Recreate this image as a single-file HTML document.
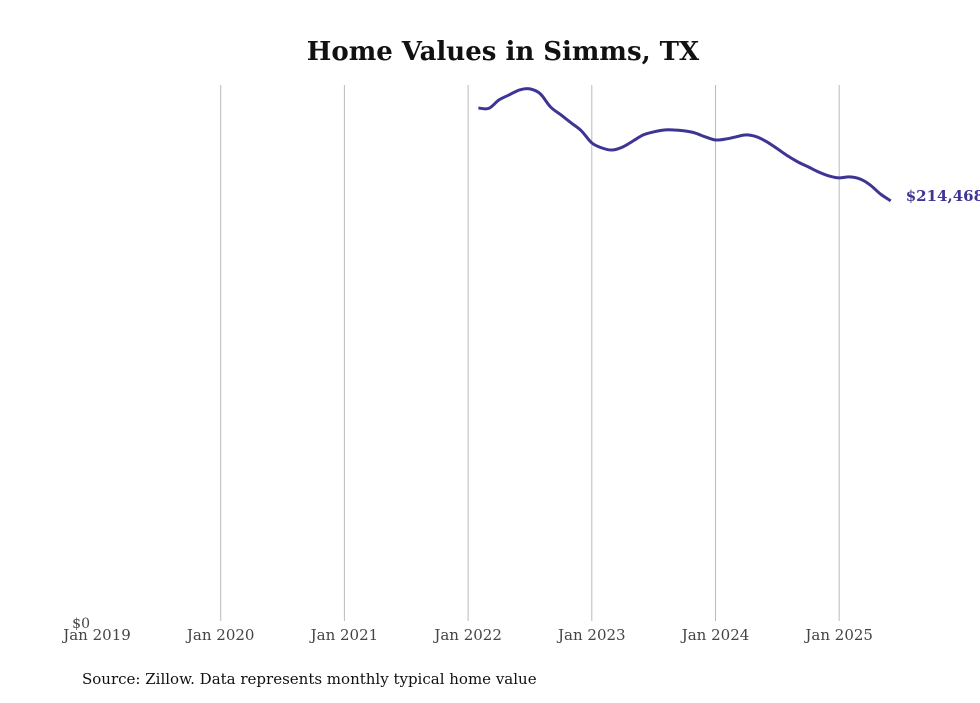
<!DOCTYPE html>
<html><head><meta charset="utf-8"><style>
body{margin:0;background:#fff;width:980px;height:699px;overflow:hidden;font-family:"DejaVu Serif","Liberation Serif",serif;}
</style></head><body>
<svg width="980" height="699">
<text x="503" y="60" text-anchor="middle" font-size="26" font-weight="bold" fill="#111">Home Values in Simms, TX</text>
<g id="grid"></g>
<g id="xt"></g>
<text x="90" y="628" text-anchor="end" font-size="14" fill="#444">$0</text>
<path id="line" fill="none" stroke="#3d3494" stroke-width="3" stroke-linejoin="round"/>
<text id="endlbl" font-size="15" font-weight="bold" fill="#3d3494"></text>
<text x="82" y="684" font-size="15" fill="#111">Source: Zillow. Data represents monthly typical home value</text>
</svg>
<script>
const tickLabels=["Jan 2019","Jan 2020","Jan 2021","Jan 2022","Jan 2023","Jan 2024","Jan 2025"];
const startMonth=37; // months since Jan 2019 (Feb 2022)
const values=[261800,261600,265900,268500,271000,271500,269000,262300,258300,254200,250100,244000,241400,240400,241900,245000,248100,249600,250600,250600,250100,249100,247100,245500,246000,247100,248100,247100,244500,241000,237400,234300,231800,229200,227200,226200,226700,225700,222600,218000,214468];
const yMax=273500;
const x0=97,pxPerMonth=123.7/12,yBase=622,yTop=85;
const xs=m=>x0+m*pxPerMonth;
const ys=v=>yBase-(v/yMax)*(yBase-yTop);
const ns="http://www.w3.org/2000/svg";
const grid=document.getElementById('grid'),xt=document.getElementById('xt');
tickLabels.forEach((t,i)=>{
  const x=xs(i*12);
  if(i>0){const l=document.createElementNS(ns,'line');
  
  
  l.setAttribute('x1',x);l.setAttribute('x2',x);l.setAttribute('y1',85);l.setAttribute('y2',621);
  l.setAttribute('stroke','#bbb');l.setAttribute('stroke-width','1');grid.appendChild(l);}
  const tx=document.createElementNS(ns,'text');
  
  
  tx.setAttribute('x',x);tx.setAttribute('y',640);tx.setAttribute('text-anchor','middle');
  tx.setAttribute('font-size','15');tx.setAttribute('fill','#444');tx.textContent=t;xt.appendChild(tx);
});
const pts=values.map((v,i)=>[xs(startMonth+i),ys(v)]);
let d='M'+pts[0][0].toFixed(1)+','+pts[0][1].toFixed(1);
for(let i=0;i<pts.length-1;i++){
  const p0=pts[Math.max(0,i-1)],p1=pts[i],p2=pts[i+1],p3=pts[Math.min(pts.length-1,i+2)];
  const c1=[p1[0]+(p2[0]-p0[0])/6,p1[1]+(p2[1]-p0[1])/6],c2=[p2[0]-(p3[0]-p1[0])/6,p2[1]-(p3[1]-p1[1])/6];
  d+='C'+c1.map(n=>n.toFixed(1)).join(',')+' '+c2.map(n=>n.toFixed(1)).join(',')+' '+p2.map(n=>n.toFixed(1)).join(',');
}
document.getElementById('line').setAttribute('d',d);
const last=values[values.length-1],lbl=document.getElementById('endlbl');
lbl.setAttribute('x',xs(startMonth+values.length-1)+15);lbl.setAttribute('y',ys(last)+0);
lbl.textContent='$'+last.toLocaleString('en-US');
</script>
</body></html>
